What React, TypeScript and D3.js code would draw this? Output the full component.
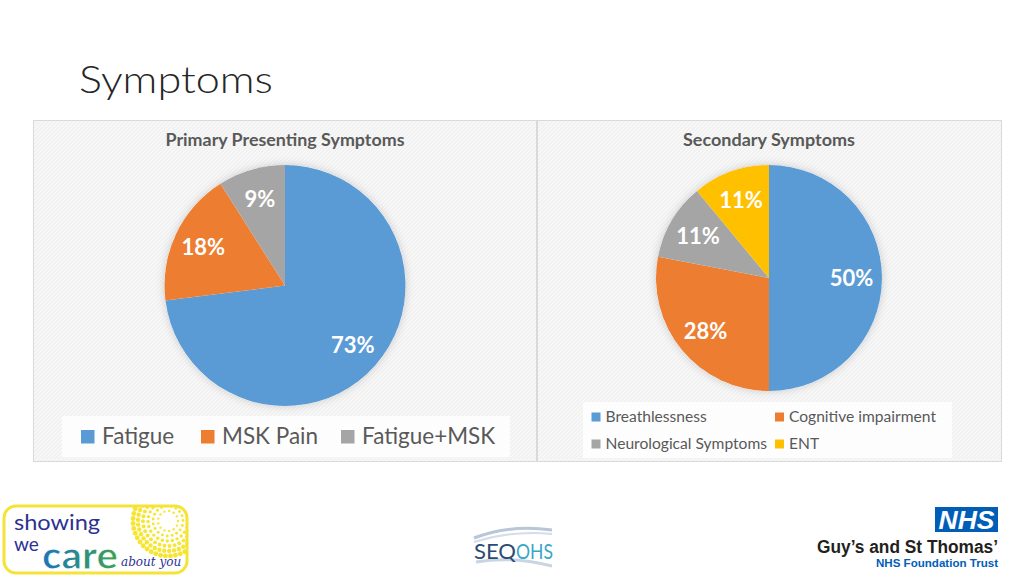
import React from 'react';
import * as d3 from 'd3';

const primaryTitle = 'Primary Presenting Symptoms';
const primaryCategories = ['Fatigue', 'MSK Pain', 'Fatigue+MSK'];
const primaryValues = [73, 18, 9];
const secondaryTitle = 'Secondary Symptoms';
const secondaryCategories = ['Breathlessness', 'Cognitive impairment', 'Neurological Symptoms', 'ENT'];
const secondaryValues = [50, 28, 11, 11];
const palette = ['#5B9BD5', '#ED7D31', '#A5A5A5', '#FFC000'];

const FONT = 'Lato, "Open Sans", sans-serif';

type PieProps = { values: number[]; cx: number; cy: number; r: number; labelFrac: number };

function Pie({ values, cx, cy, r, labelFrac }: PieProps) {
  const pie = d3.pie<number>().sort(null).value((d) => d);
  const arcs = pie(values);
  const arc = d3.arc<d3.PieArcDatum<number>>().innerRadius(0).outerRadius(r);
  const labelArc = d3.arc<d3.PieArcDatum<number>>().innerRadius(r * labelFrac).outerRadius(r * labelFrac);
  const total = d3.sum(values);
  const color = d3.scaleOrdinal<number, string>().domain(d3.range(values.length)).range(palette);
  return (
    <g transform={`translate(${cx},${cy})`}>
      <circle r={r} fill="#fff" filter="url(#pieShadow)" />
      {arcs.map((a, i) => (
        <path key={i} d={arc(a) || ''} fill={color(i)} />
      ))}
      {arcs.map((a, i) => {
        const [x, y] = labelArc.centroid(a);
        return (
          <text key={'l' + i} x={x} y={y} dy="0.36em" textAnchor="middle" fill="#fff"
            fontFamily={FONT} fontWeight={700} fontSize={22}>
            {d3.format('.0%')(a.data / total)}
          </text>
        );
      })}
    </g>
  );
}

function SunDots() {
  const dots: JSX.Element[] = [];
  const rings = [10, 15, 20, 25, 30, 35];
  rings.forEach((rr, ri) => {
    const n = Math.round((2 * Math.PI * rr) / 5);
    for (let k = 0; k < n; k++) {
      const t = (k / n) * 2 * Math.PI + ri * 0.3;
      dots.push(
        <circle key={ri + '-' + k} cx={168 + rr * Math.cos(t)} cy={521 + rr * Math.sin(t)}
          r={1.2 + ri * 0.25} fill="#F7E531" />
      );
    }
  });
  return <g clipPath="url(#logoClip)">{dots}</g>;
}

export default function App() {
  return (
    <div style={{ position: 'fixed', left: 0, top: 0 }}>
      <svg width={1024} height={576} viewBox="0 0 1024 576" style={{ display: 'block', background: '#fff' }}>
        <defs>
          <pattern id="hatch" width="4" height="4" patternUnits="userSpaceOnUse">
            <rect width="4" height="4" fill="#f2f2f2" />
            <path d="M0,4 L4,0" stroke="#fbfbfb" strokeWidth="1" />
          </pattern>
          <filter id="pieShadow" x="-20%" y="-20%" width="140%" height="140%">
            <feDropShadow dx="0" dy="0" stdDeviation="4" floodColor="#000" floodOpacity="0.18" />
          </filter>
          <linearGradient id="careGrad" x1="0" x2="1" y1="0" y2="0">
            <stop offset="0" stopColor="#1B75BC" />
            <stop offset="1" stopColor="#3FA34D" />
          </linearGradient>
          <clipPath id="logoClip">
            <rect x={4} y={506} width={183} height={67} rx={12} />
          </clipPath>
        </defs>

        {/* slide title */}
        <text x={79} y={93} fontFamily={FONT} fontWeight={300} fontSize={38} fill="#262626"
          textLength={194} lengthAdjust="spacingAndGlyphs">Symptoms</text>

        {/* panels */}
        <rect x={33.5} y={120.5} width={503} height={341} fill="url(#hatch)" stroke="#d9d9d9" />
        <rect x={537.5} y={120.5} width={464} height={341} fill="url(#hatch)" stroke="#d9d9d9" />

        {/* chart titles */}
        <text x={285} y={146} textAnchor="middle" fontFamily={FONT} fontWeight={700} fontSize={16.5} fill="#595959"
          textLength={239} lengthAdjust="spacingAndGlyphs">{primaryTitle}</text>
        <text x={769} y={146} textAnchor="middle" fontFamily={FONT} fontWeight={700} fontSize={16.5} fill="#595959"
          textLength={172} lengthAdjust="spacingAndGlyphs">{secondaryTitle}</text>

        <Pie values={primaryValues} cx={285} cy={285.5} r={120.5} labelFrac={0.75} />
        <Pie values={secondaryValues} cx={769} cy={278} r={113} labelFrac={0.73} />

        {/* legend 1 */}
        <rect x={62} y={416} width={448} height={41} fill="#fff" opacity={0.85} />
        {primaryCategories.map((c, i) => {
          const xs = [81, 201, 341];
          return (
            <g key={c}>
              <rect x={xs[i]} y={430} width={13.5} height={13.5} fill={palette[i]} />
              <text x={xs[i] + 21} y={443.5} fontFamily={FONT} fontSize={22.5} fill="#595959">{c}</text>
            </g>
          );
        })}

        {/* legend 2 */}
        <rect x={583} y={402} width={369} height={56} fill="#fff" opacity={0.85} />
        {secondaryCategories.map((c, i) => {
          const col = i % 2;
          const row = Math.floor(i / 2);
          const x = col === 0 ? 591.5 : 775;
          const yb = row === 0 ? 421.5 : 448.5;
          return (
            <g key={c}>
              <rect x={x} y={yb - 9} width={9} height={9} fill={palette[i]} />
              <text x={x + 14} y={yb} fontFamily={FONT} fontSize={15.6} fill="#595959">{c}</text>
            </g>
          );
        })}

        {/* Showing we care logo */}
        <rect x={4} y={506} width={183} height={67} rx={12} fill="#fff" />
        <SunDots />
        <rect x={4} y={506} width={183} height={67} rx={12} fill="none" stroke="#F4E43A" strokeWidth={3} />
        <text x={14} y={530} fontFamily={FONT} fontSize={21} fill="#2E3192" textLength={86} lengthAdjust="spacingAndGlyphs">showing</text>
        <text x={14} y={551} fontFamily={FONT} fontSize={19} fill="#2E3192">we</text>
        <text x={42} y={569} fontFamily={FONT} fontWeight={900} fontSize={38} fill="url(#careGrad)" stroke="#fff" strokeWidth={1}
          textLength={76} lengthAdjust="spacingAndGlyphs">care</text>
        <text x={121} y={566} fontFamily={'"DejaVu Serif", serif'} fontStyle="italic" fontSize={12} fill="#2E3192">about you</text>

        {/* SEQOHS logo */}
        <path d="M474,538 Q510,524 552,530" fill="none" stroke="#b8c6d8" strokeWidth={3} />
        <path d="M474,542 Q512,530 552,534" fill="none" stroke="#d4dde8" strokeWidth={2} />
        <path d="M476,562 Q512,556 552,566" fill="none" stroke="#c9d5e3" strokeWidth={3} />
        <text x={474} y={559} fontFamily={FONT} fontSize={21} fill="#2C4A72" textLength={42} lengthAdjust="spacingAndGlyphs">SEQ</text>
        <text x={516} y={559} fontFamily={FONT} fontSize={21} fill="#3BA6C6" textLength={37} lengthAdjust="spacingAndGlyphs">OHS</text>

        {/* NHS logo */}
        <rect x={935} y={507} width={63} height={25} fill="#005EB8" />
        <text x={966.5} y={529} textAnchor="middle" fontFamily={'"Liberation Sans", Arial, sans-serif'} fontWeight={700} fontStyle="italic" fontSize={25} fill="#fff" textLength={56} lengthAdjust="spacingAndGlyphs">NHS</text>
        <text x={998} y={553} textAnchor="end" fontFamily={'"Liberation Sans", Arial, sans-serif'} fontWeight={700} fontSize={18} fill="#231F20" textLength={181} lengthAdjust="spacingAndGlyphs">Guy’s and St Thomas’</text>
        <text x={998} y={567} textAnchor="end" fontFamily={'"Liberation Sans", Arial, sans-serif'} fontWeight={700} fontSize={11.5} fill="#005EB8" textLength={122} lengthAdjust="spacingAndGlyphs">NHS Foundation Trust</text>
      </svg>
    </div>
  );
}
